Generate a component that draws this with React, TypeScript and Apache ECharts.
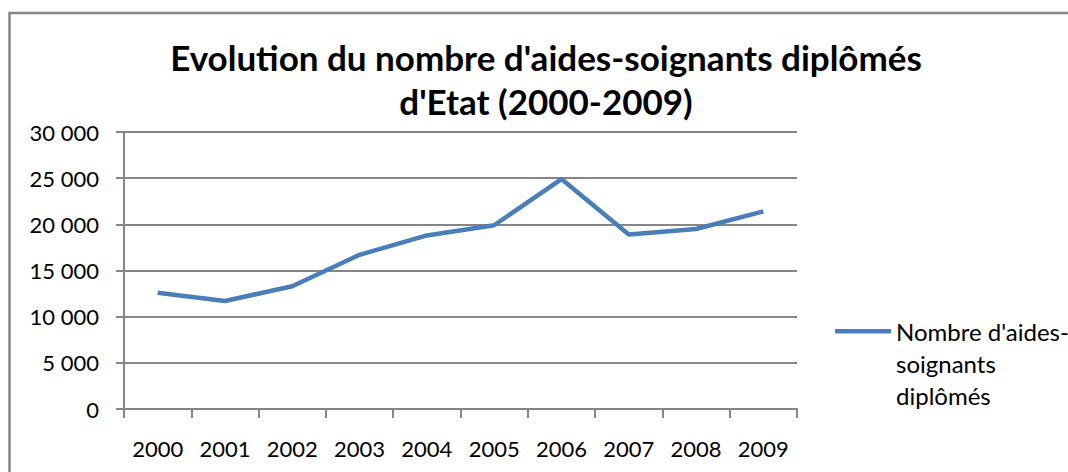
import React, { useEffect, useRef } from "react";
import * as echarts from "echarts";

const years = ["2000", "2001", "2002", "2003", "2004", "2005", "2006", "2007", "2008", "2009"];
const aidesSoignants = [12600, 11700, 13300, 16700, 18800, 19900, 24900, 18900, 19500, 21400];
const seriesName = "Nombre d'aides-soignants diplômés";
const titleText = "Evolution du nombre d'aides-soignants diplômés\nd'Etat (2000-2009)";
const legendLines = ["Nombre d'aides-", "soignants", "diplômés"];

const FONT = "Lato, 'Open Sans', sans-serif";

// legend icon: a thick line at the height of the first text line, with an invisible box spanning three lines
const LEGEND_ICON = "path://M0,0L0.01,0L0.01,0.01L0,0.01Z M0,14L56,14L56,18.5L0,18.5Z M0,95.99L0.01,95.99L0.01,96L0,96Z";

export default function App() {
  const ref = useRef<HTMLDivElement>(null);
  useEffect(() => {
    document.body.style.margin = "0";
    document.body.style.overflow = "hidden";
    if (!ref.current) return;
    const chart = echarts.init(ref.current, undefined, { renderer: "svg" });
    chart.setOption({
      animation: false,
      backgroundColor: "#ffffff",
      textStyle: { fontFamily: FONT },
      title: {
        text: titleText,
        left: 546,
        textAlign: "center",
        top: 35,
        padding: 0,
        textStyle: {
          fontFamily: FONT,
          fontWeight: "bold",
          fontSize: 35,
          lineHeight: 44,
          color: "#000000",
        },
      },
      graphic: [
        {
          type: "rect",
          shape: { x: 9.5, y: 13, width: 1200, height: 600 },
          style: { fill: "none", stroke: "#878787", lineWidth: 2.5 },
          silent: true,
        },
      ],
      legend: {
        left: 835,
        top: 315,
        padding: 0,
        orient: "vertical",
        itemWidth: 56,
        itemHeight: 96,
        itemGap: 0,
        formatter: () => legendLines.join("\n"),
        textStyle: {
          fontFamily: FONT,
          fontSize: 24,
          lineHeight: 32,
          color: "#000000",
        },
        data: [{ name: seriesName, icon: LEGEND_ICON }],
      },
      grid: { left: 124, top: 132, width: 673, height: 277, containLabel: false },
      xAxis: {
        type: "category",
        data: years,
        boundaryGap: true,
        axisLine: { show: true, lineStyle: { color: "#868686", width: 2 } },
        axisTick: { show: true, length: 9, lineStyle: { color: "#868686", width: 2 } },
        axisLabel: { fontFamily: FONT, fontSize: 22, color: "#000000", margin: 28 },
        splitLine: { show: false },
      },
      yAxis: {
        type: "value",
        min: 0,
        max: 30000,
        interval: 5000,
        axisLine: { show: true, lineStyle: { color: "#868686", width: 2 } },
        axisTick: { show: true, length: 8, lineStyle: { color: "#868686", width: 2 } },
        axisLabel: {
          fontFamily: FONT,
          fontSize: 22,
          color: "#000000",
          margin: 25,
          formatter: (v: number) => (v >= 1000 ? `${Math.floor(v / 1000)} ${String(v % 1000).padStart(3, "0")}` : String(v)),
        },
        splitLine: { show: true, lineStyle: { color: "#868686", width: 2 } },
      },
      series: [
        {
          name: seriesName,
          type: "line",
          data: aidesSoignants,
          symbol: "none",
          lineStyle: { color: "#4A7EBB", width: 4.5 },
          itemStyle: { color: "#4A7EBB" },
        },
      ],
    });
    return () => chart.dispose();
  }, []);
  return <div ref={ref} style={{ width: 1068, height: 472 }} />;
}
